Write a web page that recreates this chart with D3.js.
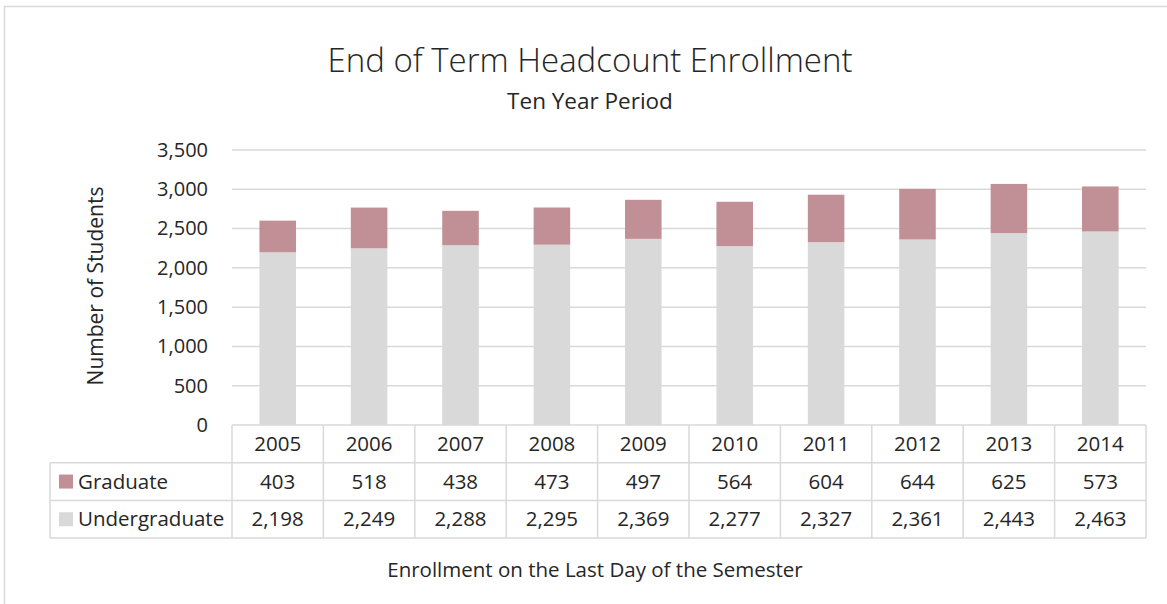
<!DOCTYPE html>
<html>
<head>
<meta charset="utf-8">
<script src="https://cdn.jsdelivr.net/npm/d3@7"></script>
<style>
  body { margin: 0; background: #fff; }
  text { font-family: "Open Sans", sans-serif; fill: #262626; }
</style>
</head>
<body>
<script>
// chart values
const years = ["2005", "2006", "2007", "2008", "2009", "2010", "2011", "2012", "2013", "2014"];
const graduate = [403, 518, 438, 473, 497, 564, 604, 644, 625, 573];
const undergraduate = [2198, 2249, 2288, 2295, 2369, 2277, 2327, 2361, 2443, 2463];
const yTicks = [0, 500, 1000, 1500, 2000, 2500, 3000, 3500];

const width = 1167, height = 604;
const gradColor = "#c09096";
const undergradColor = "#d9d9d9";
const lineColor = "#d9d9d9";

// plot area
const plotLeft = 232, plotRight = 1146, plotTop = 150, plotBottom = 425;
const rowH = 37.7;
const tableLeft = 50;
const labelSize = "20.5px";

const svg = d3.select("body").append("svg")
    .attr("width", width)
    .attr("height", height);

// chart border
svg.append("rect")
    .attr("x", 4.5).attr("y", 6.5)
    .attr("width", 1200).attr("height", 700)
    .attr("fill", "none")
    .attr("stroke", lineColor)
    .attr("stroke-width", 1.5);

// titles
svg.append("text")
    .attr("x", 590).attr("y", 72)
    .attr("text-anchor", "middle")
    .style("font-size", "33px")
    .style("font-weight", 300)
    .text("End of Term Headcount Enrollment");
svg.append("text")
    .attr("x", 590).attr("y", 109)
    .attr("text-anchor", "middle")
    .style("font-size", "22.5px")
    .text("Ten Year Period");

let x = d3.scaleBand()
    .domain(years)
    .range([plotLeft, plotRight])
    .paddingInner(0.6)
    .paddingOuter(0.3);
// columns of the data table share the band centers
let col = d3.scaleBand()
    .domain(years)
    .range([plotLeft, plotRight]);

let y = d3.scaleLinear()
    .domain([0, 3500])
    .range([plotBottom, plotTop]);

// gridlines
svg.append("g")
    .selectAll("line")
    .data(yTicks.slice(1))
    .join("line")
    .attr("x1", plotLeft).attr("x2", plotRight)
    .attr("y1", d => y(d)).attr("y2", d => y(d))
    .attr("stroke", lineColor)
    .attr("stroke-width", 1.5);

// y axis labels
let yAxis = d3.axisLeft(y)
    .tickValues(yTicks)
    .tickFormat(d3.format(","))
    .tickSize(0)
    .tickPadding(0);
let yg = svg.append("g")
    .attr("transform", "translate(208,0)")
    .call(yAxis);
yg.select(".domain").remove();
yg.selectAll("text")
    .style("font-size", "20px")
    .style("font-family", "Open Sans, sans-serif")
    .attr("fill", "#262626");

svg.append("text")
    .attr("transform", "translate(103,286) rotate(-90)")
    .attr("text-anchor", "middle")
    .style("font-size", "21px")
    .text("Number of Students");

// stacked bars
svg.append("g")
    .selectAll("rect")
    .data(years)
    .join("rect")
    .attr("x", d => x(d))
    .attr("width", x.bandwidth())
    .attr("y", (d, i) => y(undergraduate[i]))
    .attr("height", (d, i) => y(0) - y(undergraduate[i]))
    .attr("fill", undergradColor);
svg.append("g")
    .selectAll("rect")
    .data(years)
    .join("rect")
    .attr("x", d => x(d))
    .attr("width", x.bandwidth())
    .attr("y", (d, i) => y(undergraduate[i] + graduate[i]))
    .attr("height", (d, i) => y(undergraduate[i]) - y(undergraduate[i] + graduate[i]))
    .attr("fill", gradColor);

// data table
let table = svg.append("g")
    .attr("fill", "none")
    .attr("stroke", lineColor)
    .attr("stroke-width", 1.5);
// horizontal lines
table.append("line").attr("x1", plotLeft).attr("x2", plotRight).attr("y1", plotBottom).attr("y2", plotBottom);
[1, 2, 3].forEach(r => {
    table.append("line")
        .attr("x1", tableLeft).attr("x2", plotRight)
        .attr("y1", plotBottom + r * rowH).attr("y2", plotBottom + r * rowH);
});
// vertical lines
table.append("line").attr("x1", tableLeft).attr("x2", tableLeft)
    .attr("y1", plotBottom + rowH).attr("y2", plotBottom + 3 * rowH);
years.concat(["end"]).forEach((d, i) => {
    let xp = plotLeft + i * col.bandwidth();
    table.append("line").attr("x1", xp).attr("x2", xp)
        .attr("y1", plotBottom).attr("y2", plotBottom + 3 * rowH);
});

let fmt = d3.format(",");
let rows = [
    { vals: years, label: null },
    { vals: graduate.map(fmt), label: "Graduate", color: gradColor },
    { vals: undergraduate.map(fmt), label: "Undergraduate", color: undergradColor }
];
rows.forEach((row, r) => {
    let cy = plotBottom + r * rowH + rowH / 2;
    svg.append("g")
        .selectAll("text")
        .data(row.vals)
        .join("text")
        .attr("x", (d, i) => col(years[i]) + col.bandwidth() / 2)
        .attr("y", cy)
        .attr("dy", "0.35em")
        .attr("text-anchor", "middle")
        .style("font-size", labelSize)
        .text(d => d);
    if (row.label) {
        svg.append("rect")
            .attr("x", 59).attr("y", cy - 7)
            .attr("width", 14).attr("height", 14)
            .attr("fill", row.color);
        svg.append("text")
            .attr("x", 78).attr("y", cy)
            .attr("dy", "0.35em")
            .style("font-size", labelSize)
            .text(row.label);
    }
});

// x axis title
svg.append("text")
    .attr("x", 595).attr("y", 577)
    .attr("text-anchor", "middle")
    .style("font-size", "20.5px")
    .text("Enrollment on the Last Day of the Semester");
</script>
</body>
</html>
